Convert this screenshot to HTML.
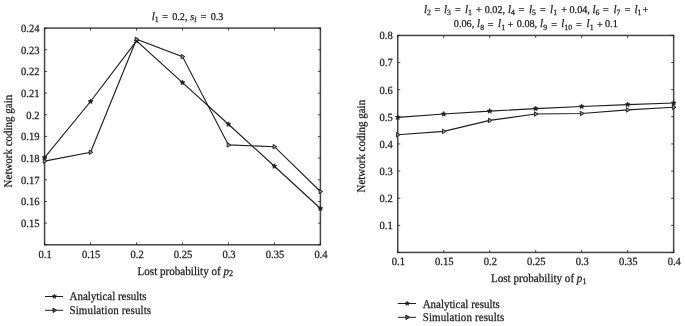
<!DOCTYPE html><html><head><meta charset="utf-8"><style>html,body{margin:0;padding:0;background:#fff;width:685px;height:326px;overflow:hidden}svg{display:block;will-change:transform}text{font-family:"Liberation Serif", serif;font-size:11.8px;fill:#1a1a1a;stroke:#1a1a1a;stroke-width:0.25px;text-rendering:geometricPrecision}</style></head><body>
<svg width="685" height="326" viewBox="0 0 685 326">
<rect width="685" height="326" fill="#fff"/>
<rect x="44.56" y="28.1" width="275.84" height="216.70" fill="none" stroke="#454545" stroke-width="1.5"/>
<line x1="44.56" y1="28.1" x2="44.56" y2="30.6" stroke="#1e1e1e" stroke-width="0.8"/>
<line x1="44.56" y1="244.8" x2="44.56" y2="242.3" stroke="#1e1e1e" stroke-width="0.8"/>
<line x1="90.53" y1="28.1" x2="90.53" y2="30.6" stroke="#1e1e1e" stroke-width="0.8"/>
<line x1="90.53" y1="244.8" x2="90.53" y2="242.3" stroke="#1e1e1e" stroke-width="0.8"/>
<line x1="136.51" y1="28.1" x2="136.51" y2="30.6" stroke="#1e1e1e" stroke-width="0.8"/>
<line x1="136.51" y1="244.8" x2="136.51" y2="242.3" stroke="#1e1e1e" stroke-width="0.8"/>
<line x1="182.48" y1="28.1" x2="182.48" y2="30.6" stroke="#1e1e1e" stroke-width="0.8"/>
<line x1="182.48" y1="244.8" x2="182.48" y2="242.3" stroke="#1e1e1e" stroke-width="0.8"/>
<line x1="228.45" y1="28.1" x2="228.45" y2="30.6" stroke="#1e1e1e" stroke-width="0.8"/>
<line x1="228.45" y1="244.8" x2="228.45" y2="242.3" stroke="#1e1e1e" stroke-width="0.8"/>
<line x1="274.43" y1="28.1" x2="274.43" y2="30.6" stroke="#1e1e1e" stroke-width="0.8"/>
<line x1="274.43" y1="244.8" x2="274.43" y2="242.3" stroke="#1e1e1e" stroke-width="0.8"/>
<line x1="320.40" y1="28.1" x2="320.40" y2="30.6" stroke="#1e1e1e" stroke-width="0.8"/>
<line x1="320.40" y1="244.8" x2="320.40" y2="242.3" stroke="#1e1e1e" stroke-width="0.8"/>
<line x1="44.56" y1="244.80" x2="47.06" y2="244.80" stroke="#1e1e1e" stroke-width="0.8"/>
<line x1="320.4" y1="244.80" x2="317.9" y2="244.80" stroke="#1e1e1e" stroke-width="0.8"/>
<line x1="44.56" y1="223.13" x2="47.06" y2="223.13" stroke="#1e1e1e" stroke-width="0.8"/>
<line x1="320.4" y1="223.13" x2="317.9" y2="223.13" stroke="#1e1e1e" stroke-width="0.8"/>
<line x1="44.56" y1="201.46" x2="47.06" y2="201.46" stroke="#1e1e1e" stroke-width="0.8"/>
<line x1="320.4" y1="201.46" x2="317.9" y2="201.46" stroke="#1e1e1e" stroke-width="0.8"/>
<line x1="44.56" y1="179.79" x2="47.06" y2="179.79" stroke="#1e1e1e" stroke-width="0.8"/>
<line x1="320.4" y1="179.79" x2="317.9" y2="179.79" stroke="#1e1e1e" stroke-width="0.8"/>
<line x1="44.56" y1="158.12" x2="47.06" y2="158.12" stroke="#1e1e1e" stroke-width="0.8"/>
<line x1="320.4" y1="158.12" x2="317.9" y2="158.12" stroke="#1e1e1e" stroke-width="0.8"/>
<line x1="44.56" y1="136.45" x2="47.06" y2="136.45" stroke="#1e1e1e" stroke-width="0.8"/>
<line x1="320.4" y1="136.45" x2="317.9" y2="136.45" stroke="#1e1e1e" stroke-width="0.8"/>
<line x1="44.56" y1="114.78" x2="47.06" y2="114.78" stroke="#1e1e1e" stroke-width="0.8"/>
<line x1="320.4" y1="114.78" x2="317.9" y2="114.78" stroke="#1e1e1e" stroke-width="0.8"/>
<line x1="44.56" y1="93.11" x2="47.06" y2="93.11" stroke="#1e1e1e" stroke-width="0.8"/>
<line x1="320.4" y1="93.11" x2="317.9" y2="93.11" stroke="#1e1e1e" stroke-width="0.8"/>
<line x1="44.56" y1="71.44" x2="47.06" y2="71.44" stroke="#1e1e1e" stroke-width="0.8"/>
<line x1="320.4" y1="71.44" x2="317.9" y2="71.44" stroke="#1e1e1e" stroke-width="0.8"/>
<line x1="44.56" y1="49.77" x2="47.06" y2="49.77" stroke="#1e1e1e" stroke-width="0.8"/>
<line x1="320.4" y1="49.77" x2="317.9" y2="49.77" stroke="#1e1e1e" stroke-width="0.8"/>
<line x1="44.56" y1="28.10" x2="47.06" y2="28.10" stroke="#1e1e1e" stroke-width="0.8"/>
<line x1="320.4" y1="28.10" x2="317.9" y2="28.10" stroke="#1e1e1e" stroke-width="0.8"/>
<polyline points="44.56,157.60 90.53,101.50 136.51,40.90 182.48,82.60 228.45,124.30 274.43,166.20 320.40,208.50" fill="none" stroke="#1e1e1e" stroke-width="1.15"/>
<polyline points="44.56,161.10 90.53,152.30 136.51,39.30 182.48,56.60 228.45,144.90 274.43,146.70 320.40,191.50" fill="none" stroke="#1e1e1e" stroke-width="1.15"/>
<polygon points="44.56,155.00 45.29,156.59 47.03,156.80 45.75,157.99 46.09,159.70 44.56,158.85 43.03,159.70 43.37,157.99 42.09,156.80 43.83,156.59" fill="#1e1e1e" stroke="#1e1e1e" stroke-width="0.6"/>
<polygon points="90.53,98.90 91.27,100.49 93.01,100.70 91.72,101.89 92.06,103.60 90.53,102.75 89.01,103.60 89.35,101.89 88.06,100.70 89.80,100.49" fill="#1e1e1e" stroke="#1e1e1e" stroke-width="0.6"/>
<polygon points="136.51,38.30 137.24,39.89 138.98,40.10 137.69,41.29 138.03,43.00 136.51,42.15 134.98,43.00 135.32,41.29 134.03,40.10 135.77,39.89" fill="#1e1e1e" stroke="#1e1e1e" stroke-width="0.6"/>
<polygon points="182.48,80.00 183.21,81.59 184.95,81.80 183.67,82.99 184.01,84.70 182.48,83.85 180.95,84.70 181.29,82.99 180.01,81.80 181.75,81.59" fill="#1e1e1e" stroke="#1e1e1e" stroke-width="0.6"/>
<polygon points="228.45,121.70 229.19,123.29 230.93,123.50 229.64,124.69 229.98,126.40 228.45,125.55 226.93,126.40 227.27,124.69 225.98,123.50 227.72,123.29" fill="#1e1e1e" stroke="#1e1e1e" stroke-width="0.6"/>
<polygon points="274.43,163.60 275.16,165.19 276.90,165.40 275.61,166.59 275.95,168.30 274.43,167.45 272.90,168.30 273.24,166.59 271.95,165.40 273.69,165.19" fill="#1e1e1e" stroke="#1e1e1e" stroke-width="0.6"/>
<polygon points="320.40,205.90 321.13,207.49 322.87,207.70 321.59,208.89 321.93,210.60 320.40,209.75 318.87,210.60 319.21,208.89 317.93,207.70 319.67,207.49" fill="#1e1e1e" stroke="#1e1e1e" stroke-width="0.6"/>
<polygon points="46.91,161.10 43.27,158.87 43.27,163.33" fill="#999" stroke="#1e1e1e" stroke-width="0.95"/>
<polygon points="92.88,152.30 89.24,150.07 89.24,154.53" fill="#999" stroke="#1e1e1e" stroke-width="0.95"/>
<polygon points="138.86,39.30 135.21,37.07 135.21,41.53" fill="#999" stroke="#1e1e1e" stroke-width="0.95"/>
<polygon points="184.83,56.60 181.19,54.37 181.19,58.83" fill="#999" stroke="#1e1e1e" stroke-width="0.95"/>
<polygon points="230.80,144.90 227.16,142.67 227.16,147.13" fill="#999" stroke="#1e1e1e" stroke-width="0.95"/>
<polygon points="276.78,146.70 273.13,144.47 273.13,148.93" fill="#999" stroke="#1e1e1e" stroke-width="0.95"/>
<polygon points="322.75,191.50 319.11,189.27 319.11,193.73" fill="#999" stroke="#1e1e1e" stroke-width="0.95"/>
<text transform="translate(45.16,258.30) scale(0.96,1)" text-anchor="middle" style="font-size:11.0px">0.1</text>
<text transform="translate(91.13,258.30) scale(0.96,1)" text-anchor="middle" style="font-size:11.0px">0.15</text>
<text transform="translate(137.11,258.30) scale(0.96,1)" text-anchor="middle" style="font-size:11.0px">0.2</text>
<text transform="translate(183.08,258.30) scale(0.96,1)" text-anchor="middle" style="font-size:11.0px">0.25</text>
<text transform="translate(229.05,258.30) scale(0.96,1)" text-anchor="middle" style="font-size:11.0px">0.3</text>
<text transform="translate(275.03,258.30) scale(0.96,1)" text-anchor="middle" style="font-size:11.0px">0.35</text>
<text transform="translate(321.00,258.30) scale(0.96,1)" text-anchor="middle" style="font-size:11.0px">0.4</text>
<text transform="translate(39.56,226.93) scale(0.96,1)" text-anchor="end" style="font-size:11.0px">0.15</text>
<text transform="translate(39.56,205.26) scale(0.96,1)" text-anchor="end" style="font-size:11.0px">0.16</text>
<text transform="translate(39.56,183.59) scale(0.96,1)" text-anchor="end" style="font-size:11.0px">0.17</text>
<text transform="translate(39.56,161.92) scale(0.96,1)" text-anchor="end" style="font-size:11.0px">0.18</text>
<text transform="translate(39.56,140.25) scale(0.96,1)" text-anchor="end" style="font-size:11.0px">0.19</text>
<text transform="translate(39.56,118.58) scale(0.96,1)" text-anchor="end" style="font-size:11.0px">0.2</text>
<text transform="translate(39.56,96.91) scale(0.96,1)" text-anchor="end" style="font-size:11.0px">0.21</text>
<text transform="translate(39.56,75.24) scale(0.96,1)" text-anchor="end" style="font-size:11.0px">0.22</text>
<text transform="translate(39.56,53.57) scale(0.96,1)" text-anchor="end" style="font-size:11.0px">0.23</text>
<text transform="translate(39.56,31.90) scale(0.96,1)" text-anchor="end" style="font-size:11.0px">0.24</text>
<rect x="397.74" y="35.45" width="275.91" height="217.00" fill="none" stroke="#454545" stroke-width="1.5"/>
<line x1="397.74" y1="35.45" x2="397.74" y2="37.95" stroke="#1e1e1e" stroke-width="0.8"/>
<line x1="397.74" y1="252.45" x2="397.74" y2="249.95" stroke="#1e1e1e" stroke-width="0.8"/>
<line x1="443.73" y1="35.45" x2="443.73" y2="37.95" stroke="#1e1e1e" stroke-width="0.8"/>
<line x1="443.73" y1="252.45" x2="443.73" y2="249.95" stroke="#1e1e1e" stroke-width="0.8"/>
<line x1="489.71" y1="35.45" x2="489.71" y2="37.95" stroke="#1e1e1e" stroke-width="0.8"/>
<line x1="489.71" y1="252.45" x2="489.71" y2="249.95" stroke="#1e1e1e" stroke-width="0.8"/>
<line x1="535.69" y1="35.45" x2="535.69" y2="37.95" stroke="#1e1e1e" stroke-width="0.8"/>
<line x1="535.69" y1="252.45" x2="535.69" y2="249.95" stroke="#1e1e1e" stroke-width="0.8"/>
<line x1="581.68" y1="35.45" x2="581.68" y2="37.95" stroke="#1e1e1e" stroke-width="0.8"/>
<line x1="581.68" y1="252.45" x2="581.68" y2="249.95" stroke="#1e1e1e" stroke-width="0.8"/>
<line x1="627.66" y1="35.45" x2="627.66" y2="37.95" stroke="#1e1e1e" stroke-width="0.8"/>
<line x1="627.66" y1="252.45" x2="627.66" y2="249.95" stroke="#1e1e1e" stroke-width="0.8"/>
<line x1="673.65" y1="35.45" x2="673.65" y2="37.95" stroke="#1e1e1e" stroke-width="0.8"/>
<line x1="673.65" y1="252.45" x2="673.65" y2="249.95" stroke="#1e1e1e" stroke-width="0.8"/>
<line x1="397.74" y1="252.45" x2="400.24" y2="252.45" stroke="#1e1e1e" stroke-width="0.8"/>
<line x1="673.65" y1="252.45" x2="671.15" y2="252.45" stroke="#1e1e1e" stroke-width="0.8"/>
<line x1="397.74" y1="225.32" x2="400.24" y2="225.32" stroke="#1e1e1e" stroke-width="0.8"/>
<line x1="673.65" y1="225.32" x2="671.15" y2="225.32" stroke="#1e1e1e" stroke-width="0.8"/>
<line x1="397.74" y1="198.20" x2="400.24" y2="198.20" stroke="#1e1e1e" stroke-width="0.8"/>
<line x1="673.65" y1="198.20" x2="671.15" y2="198.20" stroke="#1e1e1e" stroke-width="0.8"/>
<line x1="397.74" y1="171.07" x2="400.24" y2="171.07" stroke="#1e1e1e" stroke-width="0.8"/>
<line x1="673.65" y1="171.07" x2="671.15" y2="171.07" stroke="#1e1e1e" stroke-width="0.8"/>
<line x1="397.74" y1="143.95" x2="400.24" y2="143.95" stroke="#1e1e1e" stroke-width="0.8"/>
<line x1="673.65" y1="143.95" x2="671.15" y2="143.95" stroke="#1e1e1e" stroke-width="0.8"/>
<line x1="397.74" y1="116.82" x2="400.24" y2="116.82" stroke="#1e1e1e" stroke-width="0.8"/>
<line x1="673.65" y1="116.82" x2="671.15" y2="116.82" stroke="#1e1e1e" stroke-width="0.8"/>
<line x1="397.74" y1="89.70" x2="400.24" y2="89.70" stroke="#1e1e1e" stroke-width="0.8"/>
<line x1="673.65" y1="89.70" x2="671.15" y2="89.70" stroke="#1e1e1e" stroke-width="0.8"/>
<line x1="397.74" y1="62.57" x2="400.24" y2="62.57" stroke="#1e1e1e" stroke-width="0.8"/>
<line x1="673.65" y1="62.57" x2="671.15" y2="62.57" stroke="#1e1e1e" stroke-width="0.8"/>
<line x1="397.74" y1="35.45" x2="400.24" y2="35.45" stroke="#1e1e1e" stroke-width="0.8"/>
<line x1="673.65" y1="35.45" x2="671.15" y2="35.45" stroke="#1e1e1e" stroke-width="0.8"/>
<polyline points="397.74,117.40 443.73,114.00 489.71,111.10 535.69,108.60 581.68,106.50 627.66,104.60 673.65,103.00" fill="none" stroke="#1e1e1e" stroke-width="1.15"/>
<polyline points="397.74,134.70 443.73,131.40 489.71,120.40 535.69,114.00 581.68,113.50 627.66,109.90 673.65,107.20" fill="none" stroke="#1e1e1e" stroke-width="1.15"/>
<polygon points="397.74,114.80 398.47,116.39 400.21,116.60 398.93,117.79 399.27,119.50 397.74,118.65 396.21,119.50 396.55,117.79 395.27,116.60 397.01,116.39" fill="#1e1e1e" stroke="#1e1e1e" stroke-width="0.6"/>
<polygon points="443.73,111.40 444.46,112.99 446.20,113.20 444.91,114.39 445.25,116.10 443.73,115.25 442.20,116.10 442.54,114.39 441.25,113.20 442.99,112.99" fill="#1e1e1e" stroke="#1e1e1e" stroke-width="0.6"/>
<polygon points="489.71,108.50 490.44,110.09 492.18,110.30 490.90,111.49 491.24,113.20 489.71,112.35 488.18,113.20 488.52,111.49 487.24,110.30 488.98,110.09" fill="#1e1e1e" stroke="#1e1e1e" stroke-width="0.6"/>
<polygon points="535.69,106.00 536.43,107.59 538.17,107.80 536.88,108.99 537.22,110.70 535.69,109.85 534.17,110.70 534.51,108.99 533.22,107.80 534.96,107.59" fill="#1e1e1e" stroke="#1e1e1e" stroke-width="0.6"/>
<polygon points="581.68,103.90 582.41,105.49 584.15,105.70 582.87,106.89 583.21,108.60 581.68,107.75 580.15,108.60 580.49,106.89 579.21,105.70 580.95,105.49" fill="#1e1e1e" stroke="#1e1e1e" stroke-width="0.6"/>
<polygon points="627.66,102.00 628.40,103.59 630.14,103.80 628.85,104.99 629.19,106.70 627.66,105.85 626.14,106.70 626.48,104.99 625.19,103.80 626.93,103.59" fill="#1e1e1e" stroke="#1e1e1e" stroke-width="0.6"/>
<polygon points="673.65,100.40 674.38,101.99 676.12,102.20 674.84,103.39 675.18,105.10 673.65,104.25 672.12,105.10 672.46,103.39 671.18,102.20 672.92,101.99" fill="#1e1e1e" stroke="#1e1e1e" stroke-width="0.6"/>
<polygon points="400.09,134.70 396.45,132.47 396.45,136.93" fill="#999" stroke="#1e1e1e" stroke-width="0.95"/>
<polygon points="446.08,131.40 442.43,129.17 442.43,133.63" fill="#999" stroke="#1e1e1e" stroke-width="0.95"/>
<polygon points="492.06,120.40 488.42,118.17 488.42,122.63" fill="#999" stroke="#1e1e1e" stroke-width="0.95"/>
<polygon points="538.04,114.00 534.40,111.77 534.40,116.23" fill="#999" stroke="#1e1e1e" stroke-width="0.95"/>
<polygon points="584.03,113.50 580.39,111.27 580.39,115.73" fill="#999" stroke="#1e1e1e" stroke-width="0.95"/>
<polygon points="630.01,109.90 626.37,107.67 626.37,112.13" fill="#999" stroke="#1e1e1e" stroke-width="0.95"/>
<polygon points="676.00,107.20 672.36,104.97 672.36,109.43" fill="#999" stroke="#1e1e1e" stroke-width="0.95"/>
<text transform="translate(398.34,265.20) scale(0.96,1)" text-anchor="middle" style="font-size:11.0px">0.1</text>
<text transform="translate(444.33,265.20) scale(0.96,1)" text-anchor="middle" style="font-size:11.0px">0.15</text>
<text transform="translate(490.31,265.20) scale(0.96,1)" text-anchor="middle" style="font-size:11.0px">0.2</text>
<text transform="translate(536.29,265.20) scale(0.96,1)" text-anchor="middle" style="font-size:11.0px">0.25</text>
<text transform="translate(582.28,265.20) scale(0.96,1)" text-anchor="middle" style="font-size:11.0px">0.3</text>
<text transform="translate(628.26,265.20) scale(0.96,1)" text-anchor="middle" style="font-size:11.0px">0.35</text>
<text transform="translate(674.25,265.20) scale(0.96,1)" text-anchor="middle" style="font-size:11.0px">0.4</text>
<text transform="translate(392.74,229.12) scale(0.96,1)" text-anchor="end" style="font-size:11.0px">0.1</text>
<text transform="translate(392.74,202.00) scale(0.96,1)" text-anchor="end" style="font-size:11.0px">0.2</text>
<text transform="translate(392.74,174.88) scale(0.96,1)" text-anchor="end" style="font-size:11.0px">0.3</text>
<text transform="translate(392.74,147.75) scale(0.96,1)" text-anchor="end" style="font-size:11.0px">0.4</text>
<text transform="translate(392.74,120.62) scale(0.96,1)" text-anchor="end" style="font-size:11.0px">0.5</text>
<text transform="translate(392.74,93.50) scale(0.96,1)" text-anchor="end" style="font-size:11.0px">0.6</text>
<text transform="translate(392.74,66.37) scale(0.96,1)" text-anchor="end" style="font-size:11.0px">0.7</text>
<text transform="translate(392.74,39.25) scale(0.96,1)" text-anchor="end" style="font-size:11.0px">0.8</text>
<text style="font-size:10.5px" transform="translate(151.80,19.6) scale(0.97,1)"><tspan x="-0.10" y="0" font-style="italic" font-size="11.4">l</tspan><tspan y="2.30" font-size="8.0">1</tspan><tspan x="10.82" y="0.8">=</tspan><tspan x="21.03" y="0">0.2,</tspan><tspan x="39.59" y="0" font-style="italic">s</tspan><tspan y="2.30" font-size="8.0" font-style="italic">i</tspan><tspan x="50.41" y="0.8">=</tspan><tspan x="60.72" y="0">0.3</tspan></text>
<text style="font-size:10.5px" transform="translate(424.10,12.6) scale(0.97,1)"><tspan x="-0.10" y="0" font-style="italic" font-size="11.4">l</tspan><tspan y="2.30" font-size="8.0">2</tspan><tspan x="10.72" y="0.8">=</tspan><tspan x="20.41" y="0" font-style="italic" font-size="11.4">l</tspan><tspan y="2.30" font-size="8.0">3</tspan><tspan x="31.75" y="0.8">=</tspan><tspan x="42.06" y="0" font-style="italic" font-size="11.4">l</tspan><tspan y="2.30" font-size="8.0">1</tspan><tspan x="53.40" y="0.8">+</tspan><tspan x="62.47" y="0">0.02,</tspan><tspan x="86.49" y="0" font-style="italic" font-size="11.4">l</tspan><tspan y="2.30" font-size="8.0">4</tspan><tspan x="97.32" y="0.8">=</tspan><tspan x="108.14" y="0" font-style="italic" font-size="11.4">l</tspan><tspan y="2.30" font-size="8.0">5</tspan><tspan x="119.59" y="0.8">=</tspan><tspan x="129.90" y="0" font-style="italic" font-size="11.4">l</tspan><tspan y="2.30" font-size="8.0">1</tspan><tspan x="141.34" y="0.8">+</tspan><tspan x="149.90" y="0">0.04,</tspan><tspan x="173.61" y="0" font-style="italic" font-size="11.4">l</tspan><tspan y="2.30" font-size="8.0">6</tspan><tspan x="184.43" y="0.8">=</tspan><tspan x="195.26" y="0" font-style="italic" font-size="11.4">l</tspan><tspan y="2.30" font-size="8.0">7</tspan><tspan x="206.80" y="0.8">=</tspan><tspan x="216.91" y="0" font-style="italic" font-size="11.4">l</tspan><tspan y="2.30" font-size="8.0">1</tspan><tspan x="225.05" y="0.8">+</tspan></text>
<text style="font-size:10.5px" transform="translate(453.90,27.3) scale(0.97,1)"><tspan x="-0.10" y="0">0.06,</tspan><tspan x="23.92" y="0" font-style="italic" font-size="11.4">l</tspan><tspan y="2.30" font-size="8.0">8</tspan><tspan x="34.85" y="0.8">=</tspan><tspan x="45.57" y="0" font-style="italic" font-size="11.4">l</tspan><tspan y="2.30" font-size="8.0">1</tspan><tspan x="55.15" y="0.8">+</tspan><tspan x="64.85" y="0">0.08,</tspan><tspan x="88.87" y="0" font-style="italic" font-size="11.4">l</tspan><tspan y="2.30" font-size="8.0">9</tspan><tspan x="100.31" y="0.8">=</tspan><tspan x="110.62" y="0" font-style="italic" font-size="11.4">l</tspan><tspan y="2.30" font-size="8.0">10</tspan><tspan x="125.98" y="0.8">=</tspan><tspan x="136.80" y="0" font-style="italic" font-size="11.4">l</tspan><tspan y="2.30" font-size="8.0">1</tspan><tspan x="147.63" y="0.8">+</tspan><tspan x="155.77" y="0">0.1</tspan></text>
<text transform="translate(12,141.1) rotate(-90) scale(0.93,1)" text-anchor="middle">Network coding gain</text>
<text transform="translate(365,146.2) rotate(-90) scale(0.93,1)" text-anchor="middle">Network coding gain</text>
<text transform="translate(185.30,274.60) scale(0.94,1)" text-anchor="middle">Lost probability of <tspan font-style="italic">p</tspan><tspan font-size="8.6" dy="1.6">2</tspan></text>
<text transform="translate(538.70,282.20) scale(0.94,1)" text-anchor="middle">Lost probability of <tspan font-style="italic">p</tspan><tspan font-size="8.6" dy="1.6">1</tspan></text>
<line x1="45" y1="296.5" x2="63" y2="296.5" stroke="#1e1e1e" stroke-width="1"/>
<polygon points="54.30,294.20 54.95,295.61 56.49,295.79 55.35,296.84 55.65,298.36 54.30,297.60 52.95,298.36 53.25,296.84 52.11,295.79 53.65,295.61" fill="#1e1e1e" stroke="#1e1e1e" stroke-width="0.6"/>
<line x1="45" y1="310.3" x2="63" y2="310.3" stroke="#1e1e1e" stroke-width="1"/>
<polygon points="56.65,310.30 53.01,308.07 53.01,312.53" fill="#555" stroke="#1e1e1e" stroke-width="0.95"/>
<text transform="translate(69.50,300.10) scale(0.93,1)">Analytical results</text>
<text transform="translate(69.50,313.90) scale(0.93,1)" textLength="87.74" lengthAdjust="spacing">Simulation results</text>
<line x1="397.8" y1="303.5" x2="416" y2="303.5" stroke="#1e1e1e" stroke-width="1"/>
<polygon points="407.20,301.20 407.85,302.61 409.39,302.79 408.25,303.84 408.55,305.36 407.20,304.60 405.85,305.36 406.15,303.84 405.01,302.79 406.55,302.61" fill="#1e1e1e" stroke="#1e1e1e" stroke-width="0.6"/>
<line x1="397.8" y1="317.3" x2="416" y2="317.3" stroke="#1e1e1e" stroke-width="1"/>
<polygon points="409.55,317.30 405.91,315.07 405.91,319.53" fill="#555" stroke="#1e1e1e" stroke-width="0.95"/>
<text transform="translate(422.70,307.50) scale(0.93,1)">Analytical results</text>
<text transform="translate(422.70,321.30) scale(0.93,1)" textLength="87.74" lengthAdjust="spacing">Simulation results</text>
</svg></body></html>
